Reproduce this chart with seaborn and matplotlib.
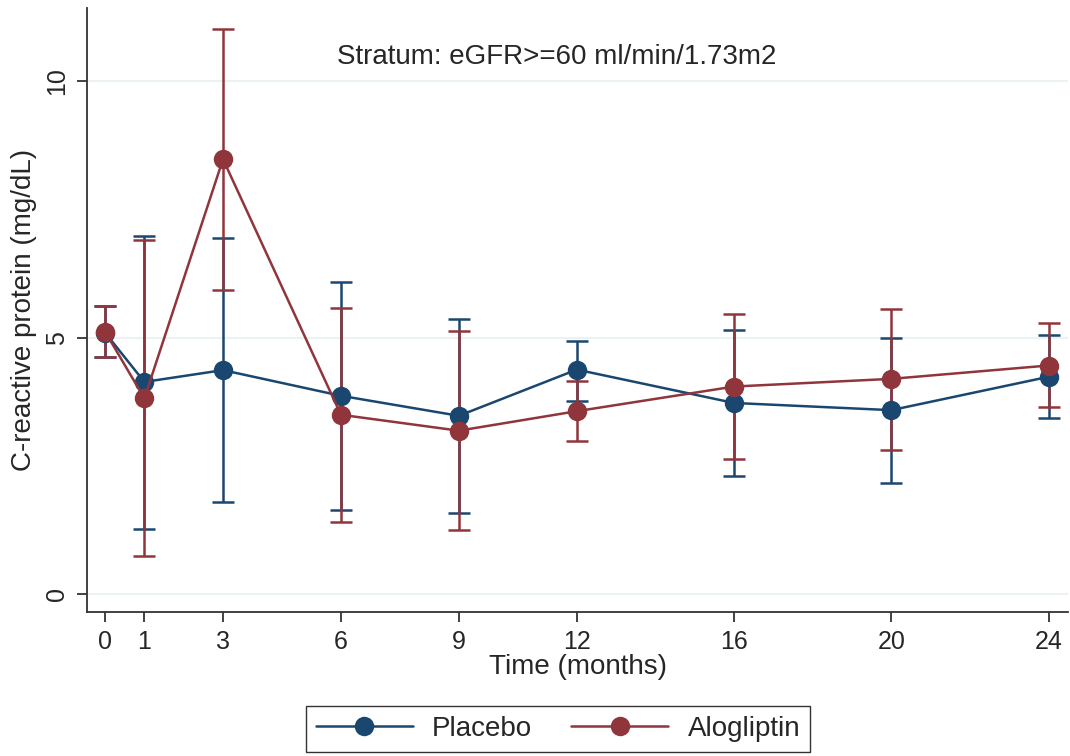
import numpy as np
import pandas as pd
import seaborn as sns
import matplotlib.pyplot as plt

months = [0, 1, 3, 6, 9, 12, 16, 20, 24]

placebo_mean = [5.10, 4.14, 4.37, 3.87, 3.48, 4.38, 3.73, 3.59, 4.24]
placebo_lo = [4.62, 1.28, 1.81, 1.64, 1.58, 3.77, 2.30, 2.17, 3.44]
placebo_hi = [5.62, 6.98, 6.94, 6.08, 5.37, 4.94, 5.16, 5.00, 5.05]

alog_mean = [5.12, 3.82, 8.48, 3.50, 3.19, 3.57, 4.05, 4.20, 4.46]
alog_lo = [4.62, 0.75, 5.94, 1.41, 1.25, 2.99, 2.64, 2.82, 3.66]
alog_hi = [5.62, 6.90, 11.02, 5.59, 5.14, 4.16, 5.47, 5.57, 5.28]

groups = ['Placebo', 'Alogliptin']
colors = {'Placebo': '#1a476f', 'Alogliptin': '#90353b'}

df = pd.DataFrame({
    'month': months * 2,
    'crp': placebo_mean + alog_mean,
    'lo': placebo_lo + alog_lo,
    'hi': placebo_hi + alog_hi,
    'group': ['Placebo'] * len(months) + ['Alogliptin'] * len(months),
})

sns.set_style('white')
plt.rcParams['font.family'] = ['Liberation Sans', 'DejaVu Sans']

fig = plt.figure(figsize=(10.7, 7.56), dpi=100)
ax = fig.add_axes([0.0813, 0.190, 0.917, 0.799])

for g in groups:
    d = df[df['group'] == g]
    ax.errorbar(d['month'], d['crp'], yerr=[d['crp'] - d['lo'], d['hi'] - d['crp']],
                fmt='none', ecolor=colors[g], elinewidth=1.8, capsize=8, capthick=1.8, zorder=2)

sns.lineplot(data=df, x='month', y='crp', hue='group', hue_order=groups, palette=colors,
             marker='o', markersize=14, markeredgewidth=0, linewidth=1.8, ax=ax, zorder=3)

ax.set_xlim(-0.46, 24.5)
ax.set_ylim(-0.35, 11.42)
ax.set_xticks(months)
ax.set_yticks([0, 5, 10])
ax.set_yticklabels(['0', '5', '10'], rotation=90, va='center')
ax.grid(axis='y', color='#eaf2f3', linewidth=1.5)
ax.set_axisbelow(True)
for s in ['top', 'right']:
    ax.spines[s].set_visible(False)
for s in ['left', 'bottom']:
    ax.spines[s].set_color('#333333')
    ax.spines[s].set_linewidth(1.3)
ax.tick_params(axis='both', labelsize=18, length=7, width=1.3, color='#333333', left=True, bottom=True, pad=6)
ax.set_xlabel('Time (months)', fontsize=20, labelpad=0)
ax.set_ylabel('C-reactive protein (mg/dL)', fontsize=20, labelpad=6)

ax.text(11.5, 10.47, 'Stratum: eGFR>=60 ml/min/1.73m2', fontsize=20, ha='center', va='center')

handles, labels = ax.get_legend_handles_labels()
ax.get_legend().remove()
leg = fig.legend(handles, labels, loc='center', bbox_to_anchor=(558 / 1070, 1 - 729 / 756), ncol=2,
                 fontsize=20, frameon=True, fancybox=False, edgecolor='black', handlelength=3.5,
                 handletextpad=0.7, columnspacing=1.4, borderpad=0.35)
leg.get_frame().set_linewidth(1.0)

fig.savefig('out.png', dpi=100)
